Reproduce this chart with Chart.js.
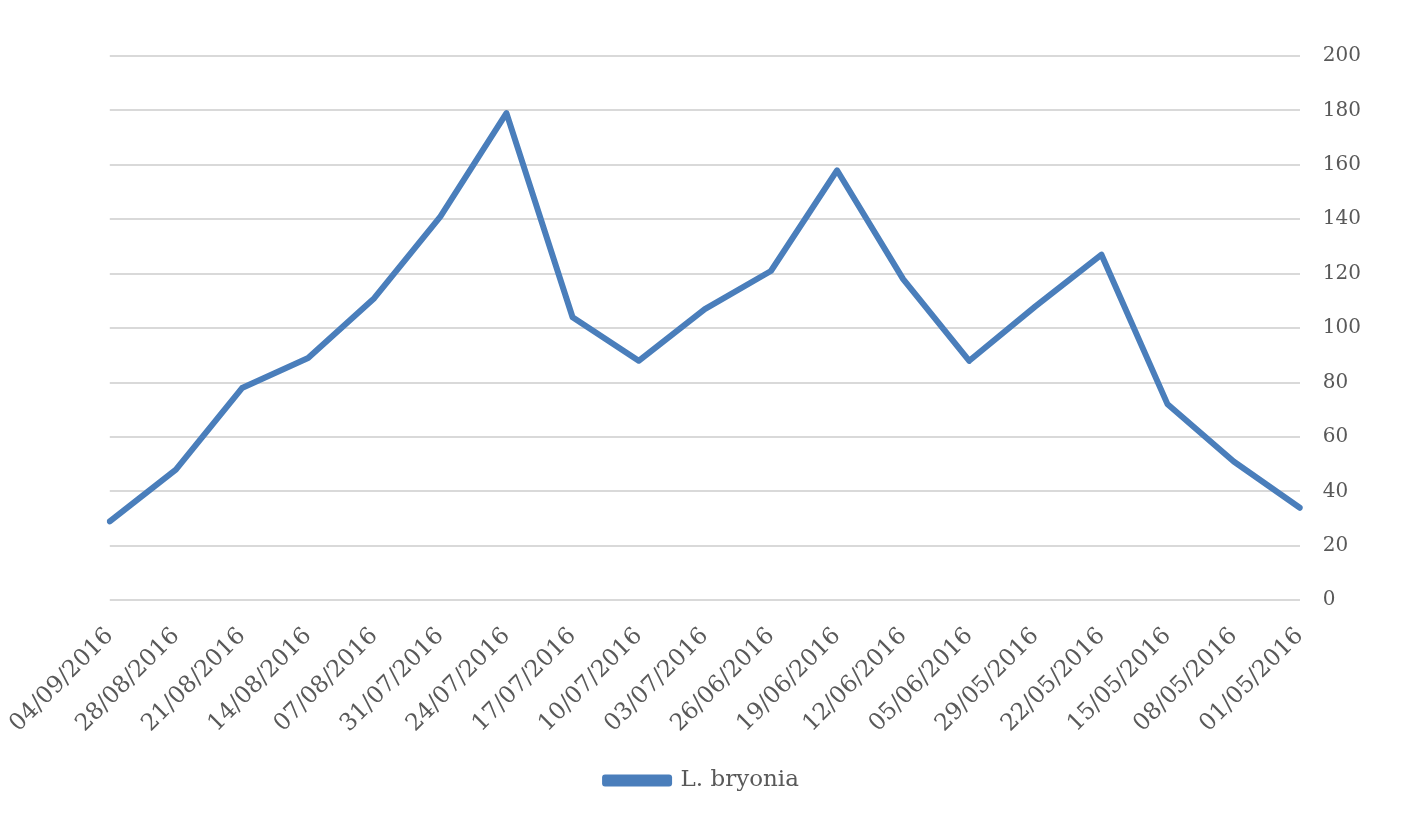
<!DOCTYPE html>
<html lang="en">
<head>
  <meta charset="UTF-8">
  <title>L. bryonia</title>
  <script src="https://cdn.jsdelivr.net/npm/chart.js"></script>
  <style>
    html, body { margin: 0; padding: 0; background: #fff; }
    #wrap { width: 1405px; height: 818px; }
  </style>
</head>
<body>
  <div id="wrap">
    <canvas id="bryoniaChart"></canvas>
  </div>

  <script>
    const dates = [
      '04/09/2016', '28/08/2016', '21/08/2016', '14/08/2016', '07/08/2016',
      '31/07/2016', '24/07/2016', '17/07/2016', '10/07/2016', '03/07/2016',
      '26/06/2016', '19/06/2016', '12/06/2016', '05/06/2016', '29/05/2016',
      '22/05/2016', '15/05/2016', '08/05/2016', '01/05/2016'
    ];
    const bryonia = [29, 48, 78, 89, 111, 141, 179, 104, 88, 107, 121, 158, 118, 88, 108, 127, 72, 51, 34];

    const blue = '#4A7EBB';
    const textGrey = '#595959';
    const font = 'DejaVu Serif';

    const ctx = document.getElementById('bryoniaChart').getContext('2d');

    const chart = new Chart(ctx, {
      type: 'line',
      data: {
        labels: dates,
        datasets: [{
          label: 'L. bryonia',
          data: bryonia,
          borderColor: blue,
          backgroundColor: blue,
          borderWidth: 6,
          borderCapStyle: 'round',
          borderJoinStyle: 'round',
          pointRadius: 0,
          tension: 0,
          fill: false
        }]
      },
      options: {
        responsive: true,
        maintainAspectRatio: false,
        animation: false,
        layout: {
          padding: { top: 56, left: 20, right: 21, bottom: 16 }
        },
        plugins: {
          tooltip: { enabled: false },
          legend: {
            position: 'bottom',
            labels: {
              boxWidth: 64,
              boxHeight: 6,
              padding: 17,
              color: textGrey,
              font: { family: font, size: 23 }
            }
          }
        },
        scales: {
          x: {
            offset: false,
            grid: { display: false },
            border: { display: false },
            ticks: {
              autoSkip: false,
              maxRotation: 45,
              minRotation: 45,
              padding: 14,
              color: textGrey,
              font: { family: font, size: 23.5 }
            }
          },
          y: {
            position: 'right',
            min: 0,
            max: 200,
            grid: { color: '#D9D9D9', lineWidth: 2, drawTicks: false },
            border: { display: false },
            ticks: {
              stepSize: 20,
              padding: 23,
              color: textGrey,
              font: { family: font, size: 20 }
            }
          }
        }
      }
    });
  </script>
</body>
</html>
